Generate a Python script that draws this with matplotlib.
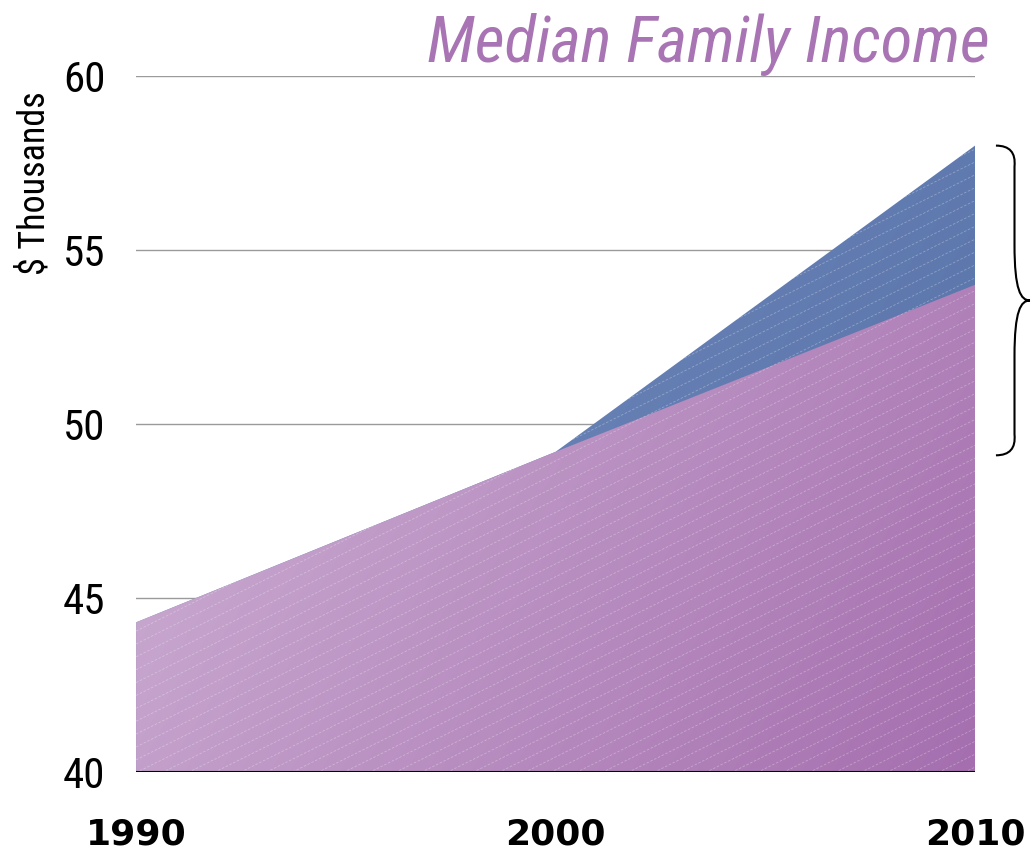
import numpy as np
import matplotlib
matplotlib.use("Agg")
import matplotlib.pyplot as plt
from matplotlib.colors import LinearSegmentedColormap
from matplotlib.path import Path
from matplotlib.patches import PathPatch
import matplotlib.transforms as mtransforms
from matplotlib import font_manager

# data
years = [1990, 2000, 2010]
income_actual = [44.3, 49.2, 54.0]      # purple area
income_trend = [44.3, 49.2, 58.0]       # blue area (trend continued)
yticks = [40, 45, 50, 55, 60]

purple = "#a874b3"

# pick a narrow face if there is one
names = set(f.name for f in font_manager.fontManager.ttflist)
narrow = "DejaVu Sans"
for cand in ["Liberation Sans Narrow", "Roboto Condensed", "Open Sans Condensed",
             "DejaVu Sans Condensed"]:
    if cand in names:
        narrow = cand
        break

fig = plt.figure(figsize=(10.31, 8.55), dpi=100)
ax = fig.add_axes([0.132, 0.0971, 0.8137, 0.814])
ax.set_xlim(1990, 2010)
ax.set_ylim(40, 60)

# gridlines
for t in yticks[1:]:
    ax.axhline(t, color="#9a9a9a", lw=1.0, zorder=0)

# areas (invisible fills used as clip paths for gradients)
blue_poly = ax.fill_between(years, 40, income_trend, color="none", lw=0, zorder=1)
purple_poly = ax.fill_between(years, 40, income_actual, color="none", lw=0, zorder=2)

nx, ny = 200, 200
gx, gy = np.meshgrid(np.linspace(0, 1, nx), np.linspace(1, 0, ny))
grad = (gx * 0.65 + (1 - gy) * 0.35)

cm_purple = LinearSegmentedColormap.from_list("p", ["#d3bad9", "#a56faf"])
cm_blue = LinearSegmentedColormap.from_list("b", ["#7891c2", "#5570a7"])

im_b = ax.imshow(grad, cmap=cm_blue, extent=[1990, 2010, 40, 60], aspect="auto",
                 zorder=1, interpolation="bilinear")
im_b.set_clip_path(blue_poly.get_paths()[0], transform=ax.transData)
im_p = ax.imshow(grad, cmap=cm_purple, extent=[1990, 2010, 40, 60], aspect="auto",
                 zorder=2, interpolation="bilinear")
im_p.set_clip_path(purple_poly.get_paths()[0], transform=ax.transData)

# faint diagonal texture
slope = 0.6
for c in np.arange(-1.0, 1.0, 0.0185):
    xs = np.array([0, 1])
    ys = c + slope * xs
    for poly, z in [(blue_poly, 1.5), (purple_poly, 2.5)]:
        ln, = ax.plot(xs, ys, transform=ax.transAxes, color="white", lw=0.6,
                      alpha=0.3, ls=(0, (3, 2)), zorder=z)
        ln.set_clip_path(poly.get_paths()[0], transform=ax.transData)

ax.axhline(40, color="black", lw=1.5, zorder=3)

for s in ax.spines.values():
    s.set_visible(False)
ax.tick_params(length=0)
ax.set_yticks(yticks)
ax.set_yticklabels([str(t) for t in yticks], fontfamily=narrow,
                   fontstretch="condensed", fontsize=31)
ax.tick_params(axis="y", pad=22)
ax.set_xticks(years)
ax.set_xticklabels([str(y) for y in years], fontfamily="DejaVu Sans",
                   fontweight="bold", fontsize=26)
ax.tick_params(axis="x", pad=33)

ax.set_ylabel("$ Thousands", fontfamily=narrow, fontstretch="condensed",
              fontsize=26)
ax.yaxis.set_label_coords(-0.1, 0.846)

fig.text(0.96, 0.948, "Median Family Income", ha="right", va="center",
         fontfamily=narrow, fontstretch="condensed", style="italic",
         fontsize=47 if narrow != "DejaVu Sans" else 39, color=purple)

# brace on right
tr = mtransforms.blended_transform_factory(fig.transFigure, ax.transData)
x0, x1, x2 = 0.966, 0.986, 0.999
ytop, ybot = 58.0, 49.1
ymid = (ytop + ybot) / 2
verts = [(x0, ytop), (x1, ytop), (x1 - 0.002, ytop - 0.6), (x1 - 0.002, ymid + 1.6),
         (x1 - 0.002, ymid + 0.3), (x1 + 0.004, ymid), (x2, ymid),
         (x1 + 0.004, ymid), (x1 - 0.002, ymid - 0.3), (x1 - 0.002, ymid - 1.6),
         (x1 - 0.002, ybot + 0.6), (x1, ybot), (x0, ybot)]
codes = [Path.MOVETO, Path.CURVE3, Path.CURVE3, Path.LINETO,
         Path.CURVE4, Path.CURVE4, Path.CURVE4,
         Path.CURVE4, Path.CURVE4, Path.CURVE4,
         Path.LINETO, Path.CURVE3, Path.CURVE3]
brace = PathPatch(Path(verts, codes), transform=tr, fill=False, lw=1.5,
                  color="black", clip_on=False)
fig.add_artist(brace)

fig.savefig("out.png", dpi=100)
